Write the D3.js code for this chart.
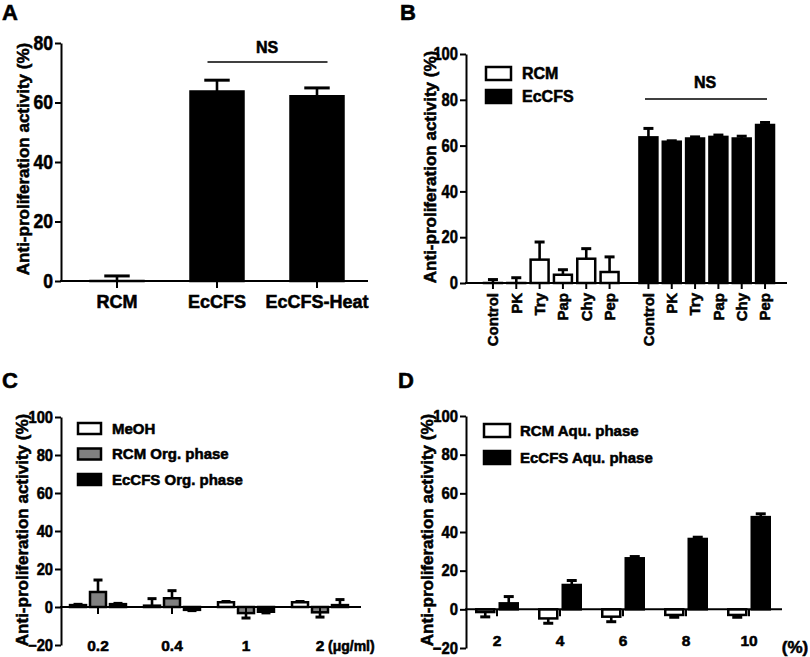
<!DOCTYPE html>
<html><head><meta charset="utf-8">
<script src="https://cdn.jsdelivr.net/npm/d3@7"></script>
<style>
body{margin:0;background:#fff}
svg{display:block}
text{font-family:"Liberation Sans",Arial,Helvetica,sans-serif;font-weight:bold;fill:#000;stroke:#000;stroke-width:0.55px;paint-order:stroke}
</style>
</head><body>
<svg id="chart" width="810" height="657"></svg>
<script>
// ---------- DATA ----------
const aCategories = ["RCM", "EcCFS", "EcCFS-Heat"];
const aValues = [0, 63.7, 62.1];
const aErrors = [1.7, 3.8, 2.8];
const aTicks = [0, 20, 40, 60, 80];

const bGroups = ["RCM", "EcCFS"];
const bCategories = ["Control", "PK", "Try", "Pap", "Chy", "Pep"];
const bRcm = [0, 0, 10.2, 3.6, 10.6, 4.8];
const bRcmErr = [1.5, 2.3, 7.7, 2.2, 4.4, 6.6];
const bEcCFS = [63.6, 61.7, 63.1, 63.8, 63.1, 69.0];
const bEcCFSErr = [3.9, 0.4, 0.7, 0.8, 1.0, 1.1];
const bTicks = [0, 20, 40, 60, 80, 100];

const cCategories = ["0.2", "0.4", "1", "2"];
const cSeries = ["MeOH", "RCM Org. phase", "EcCFS Org. phase"];
const cMeOH = [1.0, 0.7, 2.5, 2.5];
const cMeOHErr = [0.4, 3.7, 0.4, 0.4];
const cRcmOrg = [7.9, 4.6, -3.2, -2.8];
const cRcmOrgErr = [6.3, 4.0, 2.6, 2.5];
const cEcOrg = [1.5, -1.5, -2.5, 1.0];
const cEcOrgErr = [0.4, 0.4, 0.6, 2.9];

const dCategories = ["2", "4", "6", "8", "10"];
const dSeries = ["RCM Aqu. phase", "EcCFS Aqu. phase"];
const dRcmAqu = [-1.4, -4.7, -3.8, -2.9, -2.9];
const dRcmAquErr = [2.5, 2.5, 2.6, 1.2, 1.2];
const dEcAqu = [3.1, 12.6, 26.4, 36.4, 47.7];
const dEcAquErr = [3.5, 2.3, 0.9, 0.9, 1.7];

const cdTicks = [-20, 0, 20, 40, 60, 80, 100];
const yLabel = "Anti-proliferation activity (%)";

// ---------- HELPERS ----------
const svg = d3.select("#chart");
const AX = 2, BAR = 2.5, ERR = 2.6;

function yAxis(g, y, x0, ticks, fs, sx) {
  const ax = g.append("g").attr("transform", `translate(${x0},0)`)
    .call(d3.axisLeft(y).tickValues(ticks).tickSize(6).tickSizeOuter(0).tickPadding(2));
  ax.attr("font-family", null);
  ax.select(".domain").attr("stroke-width", AX).attr("stroke", "#000");
  ax.selectAll(".tick line").attr("stroke-width", AX).attr("stroke", "#000");
  ax.selectAll(".tick text").style("font-size", fs + "px").each(function () {
    const t = d3.select(this), tx = +t.attr("x");
    t.attr("x", 0).attr("transform", `translate(${tx},0) scale(${sx},1)`);
  });
}
function xLine(g, x0, x1, yv) {
  g.append("line").attr("x1", x0 - 1).attr("x2", x1).attr("y1", yv).attr("y2", yv)
    .attr("stroke", "#000").attr("stroke-width", AX);
}
function xTick(g, x, yv, len) {
  g.append("line").attr("x1", x).attr("x2", x).attr("y1", yv).attr("y2", yv + len)
    .attr("stroke", "#000").attr("stroke-width", AX);
}
function bar(g, x, w, y, v, fill) {
  const y0 = y(0), y1 = y(v);
  g.append("rect").attr("x", x).attr("width", w)
    .attr("y", Math.min(y0, y1)).attr("height", Math.max(0.01, Math.abs(y0 - y1)))
    .attr("fill", fill).attr("stroke", "#000").attr("stroke-width", BAR);
}
function errBar(g, cx, capW, y, v, e) {
  const end = v >= 0 ? v + e : v - e;
  g.append("line").attr("x1", cx).attr("x2", cx).attr("y1", y(v)).attr("y2", y(end))
    .attr("stroke", "#000").attr("stroke-width", ERR);
  g.append("line").attr("x1", cx - capW / 2).attr("x2", cx + capW / 2).attr("y1", y(end)).attr("y2", y(end))
    .attr("stroke", "#000").attr("stroke-width", ERR + 0.4);
}
function yTitle(g, x, yc) {
  g.append("text").attr("transform", `translate(${x},${yc}) rotate(-90)`)
    .attr("text-anchor", "middle").attr("dy", "0.35em").style("font-size", "17px").text(yLabel);
}
function letter(g, t, x, y) {
  g.append("text").attr("x", x).attr("y", y).style("font-size", "22px").text(t);
}
function legendBox(g, x, y, w, h, fill, label, fs, tx) {
  g.append("rect").attr("x", x).attr("y", y).attr("width", w).attr("height", h)
    .attr("fill", fill).attr("stroke", "#000").attr("stroke-width", 2.5);
  g.append("text").attr("x", tx).attr("y", y + h / 2).attr("dy", "0.36em")
    .style("font-size", fs + "px").text(label);
}

// ---------- PANEL A ----------
{
  const g = svg.append("g");
  const y = d3.scaleLinear().domain([0, 80]).range([281, 43]);
  const x = d3.scaleBand().domain(aCategories).range([67, 367]).paddingInner(0.47).paddingOuter(0.235);
  aCategories.forEach((c, i) => {
    bar(g, x(c), x.bandwidth(), y, aValues[i], "#000");
    errBar(g, x(c) + x.bandwidth() / 2, x.bandwidth() * 0.48, y, aValues[i], aErrors[i]);
  });
  yAxis(g, y, 61, aTicks, 19.5, 0.9);
  xLine(g, 61, 368, y(0));
  aCategories.forEach(c => {
    const cx = x(c) + x.bandwidth() / 2;
    xTick(g, cx, y(0), 7);
    g.append("text").attr("x", cx).attr("y", 308).attr("text-anchor", "middle").style("font-size", "18px").text(c);
  });
  g.append("line").attr("x1", x("EcCFS") + 17).attr("x2", x("EcCFS-Heat") + x.bandwidth() - 16)
    .attr("y1", 62).attr("y2", 62).attr("stroke", "#000").attr("stroke-width", 1.5);
  g.append("text").attr("x", 267).attr("y", 53).attr("text-anchor", "middle").style("font-size", "16px").text("NS");
  yTitle(g, 23, 159);
  letter(g, "A", 2, 20);
}

// ---------- PANEL B ----------
{
  const g = svg.append("g");
  const y = d3.scaleLinear().domain([0, 100]).range([283, 54]);
  const xo = d3.scaleBand().domain(bGroups).range([481.3, 776.7]).paddingInner(0.1);
  const xi = d3.scaleBand().domain(bCategories).range([0, xo.bandwidth()]).paddingInner(0.23).paddingOuter(0.115);
  const series = [[bRcm, bRcmErr, "#fff"], [bEcCFS, bEcCFSErr, "#000"]];
  bGroups.forEach((grp, gi) => {
    const [vals, errs, fill] = series[gi];
    bCategories.forEach((c, i) => {
      const x0 = xo(grp) + xi(c);
      bar(g, x0, xi.bandwidth(), y, vals[i], fill);
      errBar(g, x0 + xi.bandwidth() / 2, 10, y, vals[i], errs[i]);
    });
  });
  yAxis(g, y, 466, bTicks, 18, 0.82);
  xLine(g, 466, 787, y(0));
  bGroups.forEach(grp => {
    bCategories.forEach(c => {
      const cx = xo(grp) + xi(c) + xi.bandwidth() / 2;
      xTick(g, cx, y(0), 6);
      g.append("text").attr("transform", `translate(${cx},${y(0) + 10}) rotate(-90)`)
        .attr("text-anchor", "end").attr("dy", "0.36em").style("font-size", "15px").text(c);
    });
  });
  g.append("line").attr("x1", 645).attr("x2", 767).attr("y1", 99).attr("y2", 99)
    .attr("stroke", "#000").attr("stroke-width", 1.5);
  g.append("text").attr("x", 705).attr("y", 88).attr("text-anchor", "middle").style("font-size", "16px").text("NS");
  legendBox(g, 486, 67, 25, 13, "#fff", bGroups[0], 16, 522);
  legendBox(g, 486, 90, 25, 13, "#000", bGroups[1], 16, 522);
  yTitle(g, 430, 167);
  letter(g, "B", 400, 20);
}

// ---------- PANEL C ----------
{
  const g = svg.append("g");
  const y = d3.scaleLinear().domain([-20, 100]).range([645, 417]);
  const xo = d3.scaleBand().domain(cCategories).range([61, 357]).paddingInner(0.19).paddingOuter(0.095);
  const xi = d3.scaleBand().domain(cSeries).range([0, xo.bandwidth()]).paddingInner(0.2).paddingOuter(0.1);
  const fills = ["#fff", "#808080", "#000"];
  const vals = [cMeOH, cRcmOrg, cEcOrg];
  const errs = [cMeOHErr, cRcmOrgErr, cEcOrgErr];
  cCategories.forEach((c, ci) => {
    cSeries.forEach((s, si) => {
      const x0 = xo(c) + xi(s);
      bar(g, x0, xi.bandwidth(), y, vals[si][ci], fills[si]);
      errBar(g, x0 + xi.bandwidth() / 2, 9, y, vals[si][ci], errs[si][ci]);
    });
  });
  yAxis(g, y, 61, cdTicks, 16, 0.92);
  xLine(g, 61, 361, y(0));
  cCategories.forEach(c => {
    const cx = xo(c) + xo.bandwidth() / 2;
    xTick(g, cx, y(0), 7);
    g.append("text").attr("x", cx).attr("y", 651).attr("text-anchor", "middle").style("font-size", "15.5px").text(c);
  });
  g.append("text").attr("x", 328).attr("y", 651).style("font-size", "14px").text("(μg/ml)");
  cSeries.forEach((s, i) => legendBox(g, 78, 423 + i * 25.5, 23, 11, fills[i], s, 15, 112));
  yTitle(g, 22, 530);
  letter(g, "C", 2, 388);
}

// ---------- PANEL D ----------
{
  const g = svg.append("g");
  const y = d3.scaleLinear().domain([-20, 100]).range([648, 416]);
  const xo = d3.scaleBand().domain(dCategories).range([465.5, 780.5]).paddingInner(0.254).paddingOuter(0.127);
  const xi = d3.scaleBand().domain(dSeries).range([0, xo.bandwidth()]).paddingInner(0.234).paddingOuter(0.117);
  const fills = ["#fff", "#000"];
  const vals = [dRcmAqu, dEcAqu];
  const errs = [dRcmAquErr, dEcAquErr];
  dCategories.forEach((c, ci) => {
    dSeries.forEach((s, si) => {
      const x0 = xo(c) + xi(s);
      bar(g, x0, xi.bandwidth(), y, vals[si][ci], fills[si]);
      errBar(g, x0 + xi.bandwidth() / 2, 10, y, vals[si][ci], errs[si][ci]);
    });
  });
  yAxis(g, y, 466, cdTicks, 16.5, 0.9);
  xLine(g, 466, 782, y(0));
  dCategories.forEach(c => {
    const cx = xo(c) + xo.bandwidth() / 2;
    xTick(g, cx, y(0), 7);
    g.append("text").attr("x", cx).attr("y", 646).attr("text-anchor", "middle").style("font-size", "15.5px").text(c);
  });
  g.append("text").attr("x", 795).attr("y", 653).attr("text-anchor", "middle").style("font-size", "17px").text("(%)");
  dSeries.forEach((s, i) => legendBox(g, 484, 424 + i * 27, 26, 13, fills[i], s, 15, 520));
  yTitle(g, 427, 530);
  letter(g, "D", 398, 388);
}
</script>
</body></html>
